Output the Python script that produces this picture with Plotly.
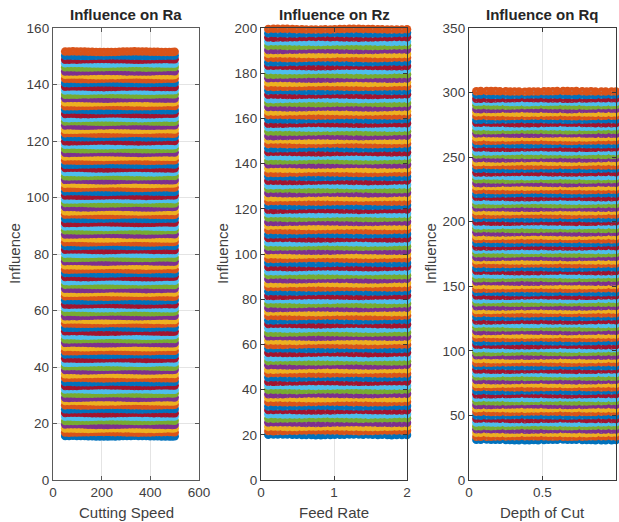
import plotly.graph_objects as go

COLORS = ["#0072BD", "#D95319", "#EDB120", "#7E2F8E", "#77AC30", "#4DBEEE", "#A2142F"]

RA_LEVELS = [15.5,16.9,18.2,19.6,21.0,22.4,23.7,25.1,26.5,27.9,29.2,30.6,32.0,33.4,34.7,36.1,37.5,38.9,40.2,41.6,
43.0,44.4,45.7,47.1,48.5,49.9,51.2,52.6,54.0,55.4,56.7,58.1,59.5,60.9,62.2,63.6,65.0,66.4,67.7,69.1,
70.5,71.9,73.2,74.6,76.0,77.4,78.7,80.1,81.5,82.9,84.2,85.6,87.0,88.4,89.7,91.1,92.5,93.9,95.2,96.6,
98.0,99.4,100.7,102.1,103.5,104.9,106.2,107.6,109.0,110.4,111.7,113.1,114.5,115.9,117.2,118.6,120.0,121.4,122.7,124.1,
125.5,126.9,128.2,129.6,131.0,132.4,133.7,135.1,136.5,137.9,139.2,140.6,142.0,143.4,144.7,146.1,147.5,148.9,150.2,151.6]

RZ_LEVELS = [20.0,21.8,23.6,25.4,27.3,29.1,30.9,32.7,34.5,36.3,38.1,39.9,41.8,43.6,45.4,47.2,49.0,50.8,52.6,54.4,
56.3,58.1,59.9,61.7,63.5,65.3,67.1,69.0,70.8,72.6,74.4,76.2,78.0,79.8,81.6,83.5,85.3,87.1,88.9,90.7,
92.5,94.3,96.1,98.0,99.8,101.6,103.4,105.2,107.0,108.8,110.6,112.5,114.3,116.1,117.9,119.7,121.5,123.3,125.2,127.0,
128.8,130.6,132.4,134.2,136.0,137.8,139.7,141.5,143.3,145.1,146.9,148.7,150.5,152.3,154.2,156.0,157.8,159.6,161.4,163.2,
165.0,166.9,168.7,170.5,172.3,174.1,175.9,177.7,179.5,181.4,183.2,185.0,186.8,188.6,190.4,192.2,194.0,195.9,197.7,199.5]

RQ_LEVELS = [31.0,33.7,36.5,39.2,41.9,44.6,47.4,50.1,52.8,55.5,58.3,61.0,63.7,66.5,69.2,71.9,74.6,77.4,80.1,82.8,
85.5,88.3,91.0,93.7,96.5,99.2,101.9,104.6,107.4,110.1,112.8,115.5,118.3,121.0,123.7,126.5,129.2,131.9,134.6,137.4,
140.1,142.8,145.5,148.3,151.0,153.7,156.5,159.2,161.9,164.6,167.4,170.1,172.8,175.5,178.3,181.0,183.7,186.5,189.2,191.9,
194.6,197.4,200.1,202.8,205.5,208.3,211.0,213.7,216.5,219.2,221.9,224.6,227.4,230.1,232.8,235.5,238.3,241.0,243.7,246.5,
249.2,251.9,254.6,257.4,260.1,262.8,265.5,268.3,271.0,273.7,276.5,279.2,281.9,284.6,287.4,290.1,292.8,295.5,298.3,301.0]

SPEED = [50,66,82,98,114,130,145,161,177,193,209,225,240,256,272,288,304,320,335,351,367,383,399,415,430,446,462,478,490,500]
FEED = [0.1,0.17,0.23,0.3,0.36,0.43,0.49,0.56,0.62,0.69,0.75,0.82,0.88,0.95,1.01,1.08,1.14,1.21,1.27,1.34,1.4,1.47,1.53,1.6,1.66,1.73,1.79,1.86,1.93,2.0]
DEPTH = [0.05,0.08,0.12,0.15,0.18,0.21,0.25,0.28,0.31,0.34,0.38,0.41,0.44,0.47,0.51,0.54,0.57,0.6,0.64,0.67,0.7,0.73,0.77,0.8,0.83,0.86,0.9,0.93,0.97,1.0]

WOBBLE_A = [0.03,0.07,0.1,0.07,0.08,0.04,0.0,-0.03,-0.07,-0.06,-0.1,-0.08,-0.04,-0.06,0.0,0.04,0.03,0.07,0.1,0.08,0.04,0.06,0.01,-0.03,-0.01,-0.06,-0.08,-0.06,-0.07,-0.03]
WOBBLE_B = [-0.07,-0.1,-0.06,-0.07,-0.03,0.01,0.0,0.04,0.07,0.1,0.08,0.1,0.06,0.03,0.04,0.0,-0.04,-0.03,-0.07,-0.1,-0.08,-0.04,-0.06,0.0,0.04,0.03,0.07,0.04,0.06,0.01]
WOBBLE_C = [0.0,0.03,0.01,-0.04,-0.07,-0.06,-0.08,-0.04,-0.01,0.03,0.01,0.07,0.1,0.07,0.08,0.04,0.06,0.0,-0.03,-0.01,-0.07,-0.1,-0.07,-0.08,-0.03,-0.04,0.01,0.06,0.04,0.08]

PANELS = [
    ("Influence on Ra", "Cutting Speed", SPEED, RA_LEVELS, 1.37, [0,600], [0,200,400,600], [0,160], list(range(0,161,20)), (53,199), "#5a5a5a", 0.12),
    ("Influence on Rz", "Feed Rate", FEED, RZ_LEVELS, 1.81, [0,2], [0,1,2], [0,200], list(range(0,201,20)), (261,407), "#3a3a3a", 0.4),
    ("Influence on Rq", "Depth of Cut", DEPTH, RQ_LEVELS, 2.73, [0,1], [0,0.5,1], [0,350], list(range(0,351,50)), (469,616), "#3a3a3a", 0.4),
]

W, H = 619, 522
L, R, T, B = 53, 616, 28, 480
FONT = "Liberation Sans"
TEXT = "#404040"
PW, PH = R - L, B - T
fig = go.Figure()
anns = []


def label(text, px, py, size, color=TEXT, angle=0):
    anns.append(dict(text=text, x=(px - L) / PW, y=(B - py) / PH, xref="paper", yref="paper", showarrow=False,
                     textangle=angle, xanchor="center", yanchor="middle",
                     font=dict(family=FONT, size=size, color=color)))


for n, (title, xlabel, xs, levels, step, xr, xt, yr, yt, (l, r), axcol, speck) in enumerate(PANELS):
    sfx = "" if n == 0 else str(n + 1)
    wob = [WOBBLE_A, WOBBLE_B, WOBBLE_C]
    speck_x, speck_y = [], []
    for i, lev in enumerate(levels):
        w = wob[i % 3]
        ys = [lev + step * d for d in w]
        fig.add_trace(go.Scatter(
            x=xs, y=ys, mode="markers",
            marker=dict(size=8.5, color=COLORS[i % 7], line=dict(width=0)),
            cliponaxis=False, showlegend=False, hoverinfo="skip",
            xaxis="x" + sfx, yaxis="y" + sfx))
        speck_x += xs[::2]
        speck_y += ys[::2]
    fig.add_trace(go.Scatter(
        x=speck_x, y=speck_y, mode="markers",
        marker=dict(size=1.6, color="#9a9a9a", opacity=speck, line=dict(width=0)),
        cliponaxis=False, showlegend=False, hoverinfo="skip",
        xaxis="x" + sfx, yaxis="y" + sfx))
    ax = dict(showline=True, linecolor=axcol, linewidth=1.3, mirror="ticks", ticks="inside", ticklen=4,
              tickcolor=axcol, showgrid=True, gridcolor="#e4e4e4", gridwidth=1, zeroline=False,
              tickfont=dict(family=FONT, size=13.5, color=TEXT))
    fig.update_layout(**{
        "xaxis" + sfx: dict(ax, domain=[(l - L) / PW, (r - L) / PW], range=xr, tickvals=xt, anchor="y" + sfx),
        "yaxis" + sfx: dict(ax, range=yr, tickvals=yt, anchor="x" + sfx),
    })
    label("<b>" + title + "</b>", (l + r) / 2, 14, 15, "#262626")
    label(xlabel, (l + r) / 2, 512, 15)
    label("Influence", l - 39, 254, 15, angle=-90)

fig.update_layout(width=W, height=H, margin=dict(l=L, r=W - R, t=T, b=H - B, autoexpand=False),
                  paper_bgcolor="white", plot_bgcolor="white", annotations=anns, showlegend=False)
fig.write_html("out.html", config={"displayModeBar": False},
               post_script="document.body.style.margin='0';document.body.style.overflow='hidden';")
